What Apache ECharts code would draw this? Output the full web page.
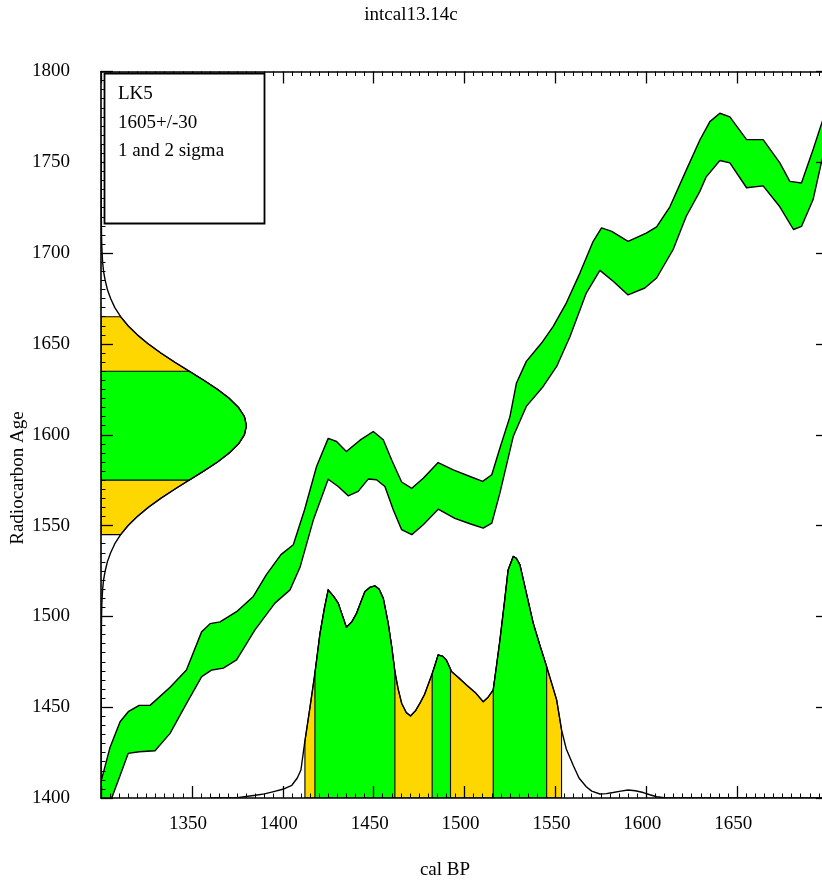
<!DOCTYPE html>
<html>
<head>
<meta charset="utf-8">
<script src="https://cdn.jsdelivr.net/npm/echarts@6/dist/echarts.min.js"></script>
<style>
  html, body { margin: 0; padding: 0; overflow: hidden; background: #fff; }
  #chart { width: 840px; height: 882px; }
</style>
</head>
<body>
<div id="chart"></div>
<script>
// Axis ranges
const calBPMin = 1300, calBPMax = 1700;
const c14Min = 1400, c14Max = 1800;

// Calibration curve envelope: [cal BP, radiocarbon age]
const curveUpper = [
  [1300,1409],[1305,1428],[1310.5,1442],[1315,1447.5],[1321,1451],[1327,1451],[1338,1461],
  [1347,1470.5],[1355.4,1491.6],[1360,1496],[1365.5,1497],[1374.6,1502.6],[1383.8,1511],
  [1391,1523],[1399,1534],[1405.8,1539.4],[1412,1558.7],[1418.6,1582.5],[1425,1598],
  [1429.6,1596.3],[1435,1590.8],[1442.5,1597],[1449.8,1601.8],[1455.3,1597.2],[1460,1586],
  [1465.4,1574],[1471,1570.5],[1477.3,1576],[1485.5,1584.7],[1493.8,1580.7],[1503,1577],
  [1510,1574.3],[1515,1578],[1519.5,1592.7],[1525,1610],[1528.6,1628.5],[1534,1640.4],
  [1542.4,1650.5],[1548.8,1659.7],[1556,1672.5],[1563.5,1689],[1570.8,1706.5],[1575.4,1713.9],
  [1581,1712],[1590,1706.5],[1600,1711],[1605.7,1714.5],[1613,1725.5],[1622,1745.7],
  [1629.5,1762.3],[1635,1772.4],[1640.5,1777],[1646,1775],[1655.2,1762.5],[1664.3,1762.5],
  [1673.5,1749.7],[1679,1739.5],[1685.4,1738.6],[1691.8,1757],[1696.6,1771.7],[1700,1782]
];
const curveLower = [
  [1300,1390],[1305.9,1400],[1310,1411],[1315,1424.6],[1321,1425.5],[1329.7,1426],
  [1338,1435.6],[1347,1452],[1355.4,1466.8],[1361,1470.5],[1367.3,1471.5],[1374.6,1476],
  [1384.7,1492.6],[1395.7,1507.3],[1404,1514.6],[1409.5,1527],[1416.8,1553],[1425,1575.5],
  [1430.5,1571.5],[1436,1566.4],[1441.5,1568.8],[1447,1575.6],[1451.6,1575.2],[1456.2,1571.5],
  [1460.8,1558.7],[1465.4,1547.7],[1471,1545],[1477.3,1550.4],[1485.5,1559],[1494.7,1554],
  [1503,1551],[1510.3,1548.6],[1515,1551.3],[1519.5,1568],[1526.8,1599],[1534,1615.6],
  [1543.3,1626.6],[1550.7,1637.6],[1558,1654],[1567,1678],[1574.5,1690.5],[1581.8,1684.5],
  [1590,1677],[1599.2,1680.8],[1605.7,1686.3],[1614.8,1702],[1622,1720.3],[1629.5,1734],
  [1633,1742],[1640.5,1751],[1646,1749.7],[1655.2,1736],[1664.3,1737],[1673.5,1725.5],
  [1681,1713],[1685.4,1714.7],[1691.8,1729.5],[1696.6,1751],[1700,1762]
];

// Calibrated age distribution: [cal BP, plotted height above the axis floor]
const calProb = [
  [1360,0],[1375,0.2],[1385,1.5],[1390,2.3],[1395,3.5],[1400,4.8],[1405,7],[1408,11],
  [1410,15.4],[1412,30],[1415,50],[1417.7,68.7],[1420.5,90.7],[1423,105],[1425,114.6],
  [1428,111],[1430.5,107.3],[1433,100],[1435,94],[1438,97],[1440.6,101.7],[1443,108],
  [1445.2,113.7],[1448,116],[1450.7,116.8],[1453,115],[1455.3,110],[1458,96.3],[1460,83],
  [1461.7,69.6],[1463.5,60],[1465.4,52.2],[1468,47],[1470.3,45.2],[1473,48],[1475.5,52.2],
  [1478,57],[1482,67.8],[1484,74],[1485.5,78.8],[1488,78],[1490,76],[1492.9,69.6],
  [1497,66],[1501,62.3],[1506,58],[1510.3,53],[1513,55.5],[1515.8,59.5],[1517.5,72],
  [1519.5,87],[1522,108],[1524,125.6],[1526.8,133],[1528.5,132],[1530.5,128.4],[1534,113],
  [1537.8,96.3],[1541.5,84],[1545.2,72.3],[1548,63],[1550.7,54],[1553.4,37.5],[1556,27],
  [1559.8,18],[1563,11],[1567,6.2],[1570,3.8],[1574.5,2.2],[1578,2.4],[1581.8,3],
  [1586,3.8],[1590,4.4],[1594,4],[1598.3,3],[1602,1.8],[1605.7,0.7],[1611,0],[1700,0]
];
const calRanges2s = [[1412.2,1553.4]];
const calRanges1s = [[1417.7,1461.7],[1482.2,1492.3],[1515.8,1545.2]];

// Measured radiocarbon age distribution: [radiocarbon age, width in cal BP years]
const c14Prob = [
  [1400,0],[1450,0.1],[1480,0.15],[1500,0.3],[1505,0.4],[1510,0.6],[1515,0.9],[1520,1.4],
  [1525,2.3],[1530,3.5],[1535,5.3],[1540,7.6],[1545,10.8],[1550,14.9],[1555,20],[1560,26],
  [1565,32.9],[1570,40.5],[1575,48.5],[1580,56.5],[1585,64.1],[1590,70.6],[1595,75.7],
  [1600,78.9],[1605,80],[1610,78.9],[1615,75.7],[1620,70.6],[1625,64.1],[1630,56.5],
  [1635,48.5],[1640,40.5],[1645,32.9],[1650,26],[1655,20],[1660,14.9],[1665,10.8],
  [1670,7.6],[1675,5.3],[1680,3.5],[1685,2.3],[1690,1.4],[1695,0.9],[1700,0.6],
  [1705,0.4],[1710,0.3],[1730,0.1],[1760,0]
];
const c14Ranges2s = [[1545,1665]];
const c14Ranges1s = [[1575,1635]];

const legendLines = ['LK5', '1605+/-30', '1 and 2 sigma'];
const chartTitle = 'intcal13.14c';
const xName = 'cal BP';
const yName = 'Radiocarbon Age';

const GREEN = '#00ff00';
const YELLOW = '#ffd700';
const FONT = '"Liberation Serif", "DejaVu Serif", serif';
const OUTLINE = 1.4;

// Linear lookup along a sorted [key, value] list
function valueAt(pts, k) {
  if (k <= pts[0][0]) return pts[0][1];
  for (let i = 1; i < pts.length; i++) {
    if (k <= pts[i][0]) {
      const a = pts[i - 1], b = pts[i];
      const t = (k - a[0]) / (b[0] - a[0]);
      return a[1] + t * (b[1] - a[1]);
    }
  }
  return pts[pts.length - 1][1];
}
function sliceBetween(pts, a, b) {
  const out = [[a, valueAt(pts, a)]];
  pts.forEach(p => { if (p[0] > a && p[0] < b) out.push(p); });
  out.push([b, valueAt(pts, b)]);
  return out;
}

function renderBand(params, api) {
  const pts = curveUpper.map(p => api.coord(p))
    .concat(curveLower.slice().reverse().map(p => api.coord(p)));
  return {
    type: 'polygon',
    shape: { points: pts },
    style: { fill: GREEN, stroke: '#000', lineWidth: OUTLINE, lineJoin: 'round' }
  };
}

function renderCalProb(params, api) {
  const children = [];
  const region = (r, color) => {
    const s = sliceBetween(calProb, r[0], r[1]);
    const pts = [api.coord([r[0], c14Min])]
      .concat(s.map(p => api.coord([p[0], c14Min + p[1]])))
      .concat([api.coord([r[1], c14Min])]);
    children.push({ type: 'polygon', shape: { points: pts },
      style: { fill: color, stroke: '#000', lineWidth: 1.1 } });
  };
  calRanges2s.forEach(r => region(r, YELLOW));
  calRanges1s.forEach(r => region(r, GREEN));
  children.push({ type: 'polyline',
    shape: { points: calProb.map(p => api.coord([p[0], c14Min + p[1]])) },
    style: { fill: null, stroke: '#000', lineWidth: OUTLINE, lineJoin: 'round' } });
  return { type: 'group', children };
}

function renderC14Prob(params, api) {
  const children = [];
  const region = (r, color) => {
    const s = sliceBetween(c14Prob, r[0], r[1]);
    const pts = [api.coord([calBPMin, r[0]])]
      .concat(s.map(p => api.coord([calBPMin + p[1], p[0]])))
      .concat([api.coord([calBPMin, r[1]])]);
    children.push({ type: 'polygon', shape: { points: pts },
      style: { fill: color, stroke: '#000', lineWidth: 1.1 } });
  };
  c14Ranges2s.forEach(r => region(r, YELLOW));
  c14Ranges1s.forEach(r => region(r, GREEN));
  children.push({ type: 'polyline',
    shape: { points: c14Prob.map(p => api.coord([calBPMin + p[1], p[0]])) },
    style: { fill: null, stroke: '#000', lineWidth: OUTLINE, lineJoin: 'round' } });
  return { type: 'group', children };
}

const plainNumber = v => String(v);
const frameLine = { show: true, onZero: false, lineStyle: { color: '#000', width: 1.6 } };
const tickStyle = { show: true, inside: true, length: 12, lineStyle: { color: '#000', width: 1.3 } };
const minorStyle = { show: true, splitNumber: 10, length: 4.5, lineStyle: { color: '#000', width: 1 } };

const xCommon = {
  type: 'value', min: calBPMin, max: calBPMax, interval: 50, z: 10,
  axisLine: frameLine, axisTick: tickStyle, minorTick: minorStyle, splitLine: { show: false }
};
const yCommon = {
  type: 'value', min: c14Min, max: c14Max, interval: 50, z: 10,
  axisLine: frameLine, axisTick: tickStyle, minorTick: minorStyle, splitLine: { show: false }
};

const chart = echarts.init(document.getElementById('chart'), null, { renderer: 'canvas' });
chart.setOption({
  animation: false,
  backgroundColor: '#fff',
  grid: { left: 101, right: 12, top: 71.5, bottom: 84, containLabel: false },
  xAxis: [
    Object.assign({}, xCommon, { position: 'bottom',
      axisLabel: { show: true, margin: 17, color: '#000', fontFamily: FONT, fontSize: 19,
        formatter: plainNumber, showMinLabel: false, showMaxLabel: false, padding: [0, 8, 0, 0] } }),
    Object.assign({}, xCommon, { position: 'top', axisLabel: { show: false } })
  ],
  yAxis: [
    Object.assign({}, yCommon, { position: 'left',
      axisLabel: { show: true, margin: 31, color: '#000', fontFamily: FONT, fontSize: 19,
        formatter: plainNumber, padding: [0, 0, 10, 0] } }),
    Object.assign({}, yCommon, { position: 'right', axisLabel: { show: false } })
  ],
  series: [
    { type: 'custom', name: 'calProb', clip: true, xAxisIndex: 0, yAxisIndex: 0,
      renderItem: renderCalProb, data: [[calBPMin, c14Min]], z: 2 },
    { type: 'custom', name: 'c14Prob', clip: true, xAxisIndex: 0, yAxisIndex: 0,
      renderItem: renderC14Prob, data: [[calBPMin, c14Min]], z: 2 },
    { type: 'custom', name: 'curve', clip: true, xAxisIndex: 0, yAxisIndex: 0,
      renderItem: renderBand, data: [[calBPMin, c14Min]], z: 3 }
  ],
  graphic: [
    { type: 'text', x: 411, y: 15, z: 20,
      style: { text: chartTitle, fill: '#000', font: '19px ' + FONT,
        align: 'center', verticalAlign: 'middle', textAlign: 'center', textVerticalAlign: 'middle' } },
    { type: 'text', x: 445, y: 870, z: 20,
      style: { text: xName, fill: '#000', font: '19px ' + FONT,
        align: 'center', verticalAlign: 'middle', textAlign: 'center', textVerticalAlign: 'middle' } },
    { type: 'text', x: 18, y: 478, rotation: Math.PI / 2, z: 20,
      style: { text: yName, fill: '#000', font: '19px ' + FONT,
        align: 'center', verticalAlign: 'middle', textAlign: 'center', textVerticalAlign: 'middle' } },
    { type: 'rect', x: 104.5, y: 73.5, z: 20,
      shape: { width: 160, height: 150 },
      style: { fill: '#fff', stroke: '#000', lineWidth: 1.8 } },
    { type: 'group', x: 118, y: 94, z: 21,
      children: legendLines.map((t, i) => ({
        type: 'text', x: 0, y: i * 28.7, z: 21,
        style: { text: t, fill: '#000', font: '19px ' + FONT,
          align: 'left', verticalAlign: 'middle', textAlign: 'left', textVerticalAlign: 'middle' }
      })) }
  ]
});
</script>
</body>
</html>
